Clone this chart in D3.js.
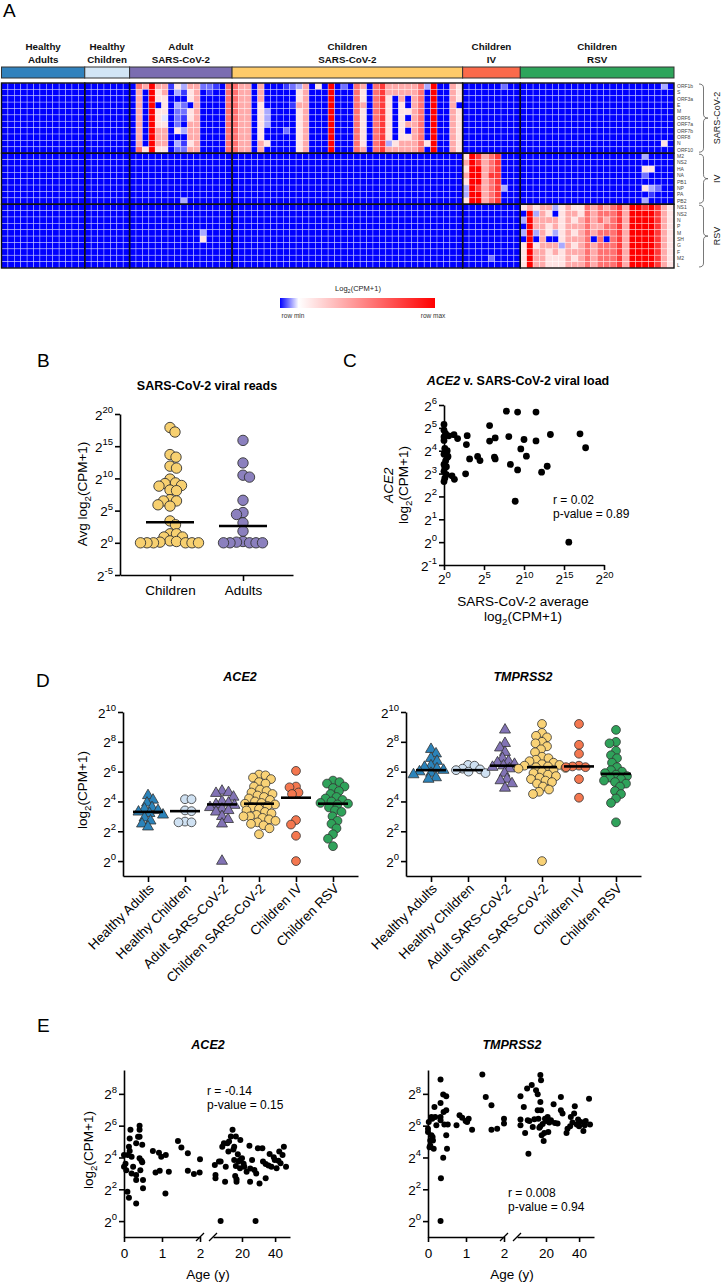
<!DOCTYPE html>
<html><head><meta charset="utf-8">
<script src="https://cdn.jsdelivr.net/npm/d3@7"></script>
<style>body{margin:0;background:#fff} svg{display:block;font-family:"Liberation Sans",Arial,sans-serif}</style>
</head><body><svg id="fig" width="722" height="1285"></svg>
<script>
// ---------------- DATA ----------------
const groups = ["Healthy Adults","Healthy Children","Adult SARS-CoV-2","Children SARS-CoV-2","Children IV","Children RSV"];
const groupLabelLines = [["Healthy","Adults"],["Healthy","Children"],["Adult","SARS-CoV-2"],["Children","SARS-CoV-2"],["Children","IV"],["Children","RSV"]];
const groupSizes = [13,7,16,36,9,24];
const groupColors = ["#3182bd","#d2e5f5","#7b6db1","#fecb6a","#fb6a4a","#2ea55b"];
const sectionNames = ["SARS-CoV-2","IV","RSV"];
const sarsGenes = ["ORF1b","S","ORF3a","E","M","ORF6","ORF7a","ORF7b","ORF8","N","ORF10"];
const ivGenes = ["M2","NS2","HA","NA","PB1","NP","PA","PB2"];
const rsvGenes = ["NS1","NS2","N","P","M","SH","G","F","M2","L"];
// heat levels 0 (row min) .. 9 (row max); one string per column, rows top->bottom
const sarsCols = [ // Adult SARS-CoV-2 + Children SARS-CoV-2 columns, SARS-CoV-2 genes
"00000000000","76666666667","60000000005","99999999999","65505556665","66555456665","10000000000","53032225032",
"31022103012","65505566656","66666666666","20000000000","21000000000","10000000000","00000000000","77777777777",
"77777777777","66666666666","66666666666","00000000000","66655555566","00003330050","00000000000","00000000000",
"10000002000","20010000000","35565555555","66666666666","00000000000","50000000000","00000000000","99999999999",
"00000000000","20000000000","00000000000","77777777777","65565555556","00000000000","77777777777","88888888888",
"66555555536","66000000056","66655555566","66005060566","66666666666","77777777777","30000000050","99999999999",
"00000000000","00000000000","66666666666","55505555555"];
const ivCols = ["56565335","99999999","88999899","66666666","77787777","88888888","00000300","00000000","00000000"];
const rsvCols = ["5030305555","6999999999","5366305666","6666666666","6565506555","3066306655","5555553555","6666666666",
"5656565656","5566666666","7777777777","6666606666","7776777777","6767707777","7777777777","8888888888",
"6666666666","9999999999","9999999999","8999999999","9999999999","8888888888","6666666666","5555555555"];
const extraCells = [[0,78,2],[0,103,3],[9,103,5],[18,28,3],[11,100,3],[13,100,5],[13,101,5],[14,100,2],[16,100,5],[16,101,3],[16,102,2],[17,101,1],[18,100,3],[23,31,3],[24,31,5],[27,76,2]];

// Panel B (log2 exponents)
const bCategories = ["Children","Adults"];
const bChildren = [17.9,17.2,13.7,13.3,11.9,11.6,9.9,9.3,9.2,8.9,8.8,8.2,8.1,6.7,6.5,6.5,5.9,5.7,3.4,2.8,1.4,1.4,0.9,0.9,0.3,0.2,0.1,0,0,0,0,0,0];
const bAdults = [15.9,12.4,10.5,10.2,6.6,4.7,4.4,3.1,1.8,0.2,0.1,0,0,0,0,0];
const bMedians = [3.2,2.6];

// Panel C [SARS-CoV-2 exp, ACE2 exp]
const cPoints = [[0,5.15],[0,4.9],[0.2,4.75],[0,4.45],[0.1,4.1],[0.3,3.9],[0,3.85],[0.4,3.7],[0.2,3.55],[0,3.4],[0.1,3.25],[0,3.1],[0.3,2.95],[0.1,2.8],[0,2.65],[0.5,3.75],[0.4,4.0],[1.0,2.9],[1.3,2.75],[0.3,3.3],[0,4.6],[0.6,4.65],
[1.25,4.7],[1.7,4.53],[2.9,4.66],[2.8,4.27],[3.2,3.64],[4.2,3.75],[4.5,3.57],[2.7,2.99],[5.7,5.1],[5.7,4.42],[6.4,4.56],[6.3,3.72],[6.4,3.64],[7.8,5.73],[9.2,5.69],[11.5,5.69],[8.1,4.62],[10,4.49],[9.6,4.08],[11.5,4.43],[10.3,3.76],[8.3,3.4],[9.2,3.16],[13.3,4.71],[12.9,3.32],[12.2,3.06],[17,4.74],[17.7,4.13],[8.9,1.79],[15.6,0]];

// Panel D (log2 exponents)
const ace2HA = [4.4,4.1,3.9,3.6,3.5,3.4,3.3,3.2,3.1,2.9,2.7,2.5,2.3];
const ace2HC = [4.15,4.15,3.4,3.35,2.65,2.6,2.6];
const ace2AS = [4.7,4.6,4.55,4.3,4.0,3.9,3.8,3.75,3.6,3.5,3.4,3.3,3.0,2.8,2.5,0];
const ace2CS = [5.8,5.75,5.6,5.5,5.3,5.2,5.0,4.8,4.7,4.6,4.5,4.4,4.3,4.2,4.1,4.0,3.9,3.85,3.8,3.7,3.6,3.5,3.4,3.3,3.2,3.1,3.0,3.0,2.9,2.8,2.7,2.6,2.5,2.4,2.2,1.8];
const ace2IV = [6.05,5.0,4.95,4.6,4.5,2.75,2.45,1.7,0];
const ace2RSV = [5.4,5.3,5.2,5.0,4.9,4.7,4.5,4.3,4.2,4.1,4.0,3.9,3.85,3.8,3.6,3.4,3.3,3.0,2.7,2.5,2.2,1.8,1.5,1.0];
const ace2Medians = [3.3,3.35,3.8,3.85,4.25,3.85];
const tmpHA = [7.5,7.2,6.9,6.7,6.4,6.3,6.2,6.1,6.0,5.9,5.8,5.6,5.5];
const tmpHC = [6.45,6.4,6.2,6.15,6.1,6.0,5.9];
const tmpAS = [8.8,7.9,7.6,7.3,6.9,6.7,6.6,6.5,6.4,6.3,6.2,5.9,5.5,5.4,5.2,4.9];
const tmpCS = [9.2,8.6,8.4,8.3,8.0,7.9,7.7,7.5,7.3,7.0,6.9,6.8,6.7,6.6,6.5,6.45,6.4,6.35,6.3,6.25,6.2,6.1,6.0,5.9,5.8,5.7,5.6,5.5,5.4,5.3,5.2,5.0,4.8,4.65,4.5,0];
const tmpIV = [9.2,7.8,7.2,6.4,6.35,6.3,6.3,5.5,4.25];
const tmpRSV = [8.8,8.0,7.9,7.4,7.1,6.9,6.6,6.3,6.1,6.0,5.9,5.8,5.7,5.6,5.5,5.4,5.3,5.2,5.0,4.7,4.5,4.2,3.9,2.6];
const tmpMedians = [6.1,6.1,6.4,6.3,6.35,5.85];

// Panel E [age (y), log2 exponent]
const eAce2 = [[0,4.16],[0,3.42],[0.04,3.6],[0.06,3.2],[0.09,1.85],[0.13,1.47],[0.1,4.16],[0.13,4.68],[0.15,4.4],[0.17,5.74],[0.15,5.2],[0.2,4.05],[0.2,3.0],[0.24,3.42],[0.32,1.11],[0.32,2.9],[0.32,2.58],[0.32,4.9],[0.37,5.3],[0.41,6.0],[0.41,5.74],[0.41,5.3],[0.41,3.95],[0.46,3.8],[0.43,3.2],[0.48,3.7],[0.48,4.8],[0.5,2.58],[0.5,2.06],
[0.76,4.4],[0.92,4.3],[0.98,4.05],[1.1,4.16],[0.83,3.05],[0.94,3.17],[1.09,1.74],[1.18,3.1],[1.42,5.04],[1.51,4.62],[1.68,4.26],[1.68,3.17],[1.84,2.96],[1.99,3.05],[2.0,3.89],
[3.6,3.53],[4.0,2.9],[4.0,2.69],[6.1,3.74],[7.1,0],[7.1,3.74],[8.1,4.68],[9.1,4.9],[9.8,2.48],[10.2,3.42],[11.2,4.9],[11.8,4.37],[12.2,5.0],[14.3,5.74],[13.3,5.32],[16.3,5.32],[15.3,4.68],[15.3,3.84],[16.3,3.47],[15.9,2.84],[16.7,2.63],[16.7,2.48],[17.9,3.74],[18.8,3.84],[20,3.95],[18.8,3.32],[21.4,3.42],[22.8,3.11],[24.5,4.73],[24.9,2.48],[26.1,3.84],[27.5,3.21],[28.2,0],[28.6,3.0],[29.6,4.58],[30.6,2.37],[32.3,4.58],[32.7,3.74],[34.3,2.69],[34.3,3.59],[36.7,4.22],[37.8,3.42],[39.2,4.01],[39.8,3.84],[40.9,3.32],[42.5,4.37],[43.3,3.63],[44.5,4.16],[45.3,4.68],[46.6,3.42],
[14.8,4.5],[17.5,4.2],[19,5.1],[21,3.6],[25,3.3],[36,3.5],[42,3.8]];
const eTmp = [[0,5.81],[0,5.6],[0.02,6.23],[0.04,4.65],[0.06,5.07],[0.06,4.76],[0.09,6.55],[0.11,6.44],[0.09,5.39],[0.12,5.28],[0.13,5.07],[0.15,4.55],[0.17,7.18],[0.19,6.55],[0.22,6.02],[0.33,8.9],[0.33,7.43],[0.33,6.55],[0.33,6.34],[0.34,2.69],[0.33,0],[0.4,3.98],[0.4,7.96],[0.41,6.86],[0.43,6.08],[0.48,7.85],[0.48,6.97],[0.48,5.39],[0.5,4.55],[0.52,6.08],
[0.75,6.02],[0.83,6.65],[0.9,6.5],[0.99,6.29],[1.03,6.23],[1.07,6.44],[1.16,5.75],[1.43,9.22],[1.52,7.81],[1.67,7.28],[1.67,5.75],[1.82,5.81],[2.0,6.44],[2.0,6.13],
[4.6,7.85],[4.6,6.38],[4.6,6.02],[6.6,7.18],[7.4,5.54],[8.6,8.34],[9.0,6.34],[9.4,4.23],[10,6.29],[11.4,8.55],[12,5.92],[14,8.23],[15,7.98],[15,6.97],[15.4,6.44],[16,5.87],[16.6,9.18],[17,8.86],[16.6,7.49],[17,6.97],[16.6,5.96],[17.4,5.39],[18.6,5.03],[19,5.54],[19.4,6.44],[21,6.55],[21.4,5.6],[23,6.34],[24.6,7.35],[25.4,6.17],[27,6.13],[29,7.81],[29,6.97],[30,6.76],[32.4,5.54],[33,5.81],[34.6,5.96],[35,6.55],[37,6.76],[37.4,7.22],[38.6,6.08],[39.4,6.38],[40,5.96],[41,6.23],[42.6,5.66],[43.4,6.02],[46,7.7],[46.6,6.08],
[13,6.4],[18,6.1],[20,6.3],[36,6.2],[44,6.3],[22,6.2]];

// ---------------- DRAW ----------------
const svg = d3.select('#fig');

function letter(t,x,y){ svg.append('text').attr('x',x).attr('y',y).attr('font-size',19).text(t); }

// ---- Panel A heatmap ----
const geneRows = [...sarsGenes, ...ivGenes, ...rsvGenes];
const sectionSizes = [sarsGenes.length, ivGenes.length, rsvGenes.length];
const sectionStart = [0, sectionSizes[0], sectionSizes[0]+sectionSizes[1]];
const nCols = d3.sum(groupSizes);
const groupStart = groupSizes.map((s,i)=>d3.sum(groupSizes.slice(0,i)));
const matrix = geneRows.map(()=>new Array(nCols).fill(0));
sarsCols.forEach((s,j)=>{ for(let r=0;r<s.length;r++) matrix[sectionStart[0]+r][groupStart[2]+j] = +s[r]; });
ivCols.forEach((s,j)=>{ for(let r=0;r<s.length;r++) matrix[sectionStart[1]+r][groupStart[4]+j] = +s[r]; });
rsvCols.forEach((s,j)=>{ for(let r=0;r<s.length;r++) matrix[sectionStart[2]+r][groupStart[5]+j] = +s[r]; });
extraCells.forEach(([r,c,v])=>{ matrix[r][c]=v; });
const cells = [];
matrix.forEach((row,r)=>row.forEach((v,c)=>cells.push({r,c,v})));

const hmX = d3.scaleBand().domain(d3.range(nCols)).range([1.5,674]);
const hmY = d3.scaleBand().domain(d3.range(geneRows.length)).range([83,268]);
const heatColor = d3.scaleLinear().domain([0,4.5,9]).range(['#0000ff','#ffffff','#ff0000']);
const bw = hmX.bandwidth(), bh = hmY.bandwidth();

letter('A',3,17);

const gA = svg.append('g');
gA.selectAll('rect.cell').data(cells).join('rect').attr('class','cell')
  .attr('x',d=>hmX(d.c)).attr('y',d=>hmY(d.r)).attr('width',bw).attr('height',bh)
  .attr('fill',d=>heatColor(d.v)).attr('stroke','rgba(255,255,255,0.55)').attr('stroke-width',0.6);
groups.forEach((g,gi)=>sectionNames.forEach((s,si)=>{
  gA.append('rect').attr('x',hmX(groupStart[gi])).attr('y',hmY(sectionStart[si]))
   .attr('width',groupSizes[gi]*bw).attr('height',sectionSizes[si]*bh)
   .attr('fill','none').attr('stroke','#111').attr('stroke-width',1.4);
}));
groups.forEach((g,gi)=>{
  const x0 = hmX(groupStart[gi]), w = groupSizes[gi]*bw;
  gA.append('rect').attr('x',x0).attr('y',67).attr('width',w).attr('height',11)
    .attr('fill',groupColors[gi]).attr('stroke','#333').attr('stroke-width',1);
  const t = gA.append('text').attr('text-anchor','middle').attr('font-size',9.8).attr('font-weight','bold').attr('fill','#111');
  groupLabelLines[gi].forEach((ln,li)=>t.append('tspan').attr('x',x0+w/2).attr('y',50+li*12.5).text(ln));
});
gA.selectAll('text.gene').data(geneRows).join('text').attr('class','gene')
  .attr('x',677).attr('y',(d,i)=>hmY(i)+bh/2).attr('dy','0.35em').attr('font-size',5).attr('fill','#444').text(d=>d);
sectionNames.forEach((s,si)=>{
  const y0 = hmY(sectionStart[si])+1, y1 = hmY(sectionStart[si])+sectionSizes[si]*bh-1, m=(y0+y1)/2, x=699, w=9;
  const p = `M${x},${y0} Q${x+w/2},${y0} ${x+w/2},${y0+4} L${x+w/2},${m-4} Q${x+w/2},${m} ${x+w},${m} Q${x+w/2},${m} ${x+w/2},${m+4} L${x+w/2},${y1-4} Q${x+w/2},${y1} ${x},${y1}`;
  gA.append('path').attr('d',p).attr('fill','none').attr('stroke','#555').attr('stroke-width',0.8);
  gA.append('text').attr('transform',`translate(720,${m}) rotate(-90)`).attr('text-anchor','middle').attr('font-size',9).attr('fill','#222').text(s);
});
const defs = svg.append('defs');
const lg = defs.append('linearGradient').attr('id','lg');
[[0,'#0000ff'],[0.12,'#ffffff'],[1,'#ff0000']].forEach(([o,c])=>lg.append('stop').attr('offset',o).attr('stop-color',c));
const lt = gA.append('text').attr('x',358).attr('y',291).attr('text-anchor','middle').attr('font-size',7.5).attr('fill','#222');
lt.append('tspan').text('Log'); lt.append('tspan').attr('dy',2).attr('font-size',5.5).text('2'); lt.append('tspan').attr('dy',-2).text('(CPM+1)');
gA.append('rect').attr('x',280).attr('y',298).attr('width',155).attr('height',10).attr('fill','url(#lg)');
gA.append('text').attr('x',293).attr('y',318).attr('text-anchor','middle').attr('font-size',6.5).attr('fill','#333').text('row min');
gA.append('text').attr('x',433).attr('y',318).attr('text-anchor','middle').attr('font-size',6.5).attr('fill','#333').text('row max');

// ---- helpers ----
function styleAxis(g){
  g.select('.domain').attr('stroke','#000').attr('stroke-width',1.6);
  g.selectAll('.tick line').attr('stroke','#000').attr('stroke-width',1.6);
}
function yAxisPow(g, scale, ticks){
  g.call(d3.axisLeft(scale).tickValues(ticks).tickSize(5).tickSizeOuter(0).tickFormat(''));
  styleAxis(g);
  g.selectAll('.tick').each(function(d){
    const t = d3.select(this).append('text').attr('x',-7).attr('y',5).attr('text-anchor','end').attr('font-size',13.5).attr('fill','#000');
    t.append('tspan').text('2'); t.append('tspan').attr('dy',-6.5).attr('font-size',9.5).text(String(d));
  });
}
function xAxisPow(g, scale, ticks){
  g.call(d3.axisBottom(scale).tickValues(ticks).tickSize(5).tickSizeOuter(0).tickFormat(''));
  styleAxis(g);
  g.selectAll('.tick').each(function(d){
    const t = d3.select(this).append('text').attr('x',0).attr('y',19).attr('text-anchor','middle').attr('font-size',13.5).attr('fill','#000');
    t.append('tspan').text('2'); t.append('tspan').attr('dy',-6.5).attr('font-size',9.5).text(String(d));
  });
}
function logLabel(x,y,fs,prefix){
  const t = svg.append('text').attr('transform',`translate(${x},${y}) rotate(-90)`).attr('text-anchor','middle').attr('font-size',fs).attr('fill','#000');
  t.append('tspan').text(prefix+'log'); t.append('tspan').attr('dy',3.5).attr('font-size',fs*0.72).text('2'); t.append('tspan').attr('dy',-3.5).text('(CPM+1)');
  return t;
}
function swarm(values, yScale, cx, minDist){
  const pts = values.map((v,i)=>({v, y:yScale(v), i}));
  const order = pts.slice().sort((a,b)=>a.y-b.y);
  const placed = [];
  order.forEach((p,k)=>{
    let off=0, found=false;
    for(let s=0; s<400 && !found; s++){
      const cands = s===0 ? [0] : (k%2 ? [s*0.5,-s*0.5] : [-s*0.5,s*0.5]);
      for(const o of cands){
        if(placed.every(q=>(q.dx-o)**2+(q.y-p.y)**2 >= minDist*minDist)){ off=o; found=true; break; }
      }
    }
    p.dx=off; placed.push(p);
  });
  return pts.map(p=>({v:p.v, y:p.y, x:cx+p.dx}));
}
function title(x,y,parts){
  const t = svg.append('text').attr('x',x).attr('y',y).attr('text-anchor','middle').attr('font-size',12.5).attr('font-weight','bold');
  parts.forEach(([s,it])=>t.append('tspan').attr('font-style',it?'italic':'normal').text(s));
}

// ---- Panel B ----
letter('B',37,367);
title(207,390,[["SARS-CoV-2 viral reads",false]]);
const yB = d3.scaleLinear().domain([-5,20]).range([575,414]);
const xB = d3.scalePoint().domain(bCategories).range([120,293]).padding(0.685);
const gBy = svg.append('g').attr('transform','translate(120,0)'); yAxisPow(gBy,yB,[-5,0,5,10,15,20]);
const gBx = svg.append('g').attr('transform','translate(0,575)');
gBx.call(d3.axisBottom(xB).tickSize(6).tickSizeOuter(0).tickFormat('')); styleAxis(gBx);
gBx.selectAll('.tick').append('text').attr('y',20).attr('text-anchor','middle').attr('font-size',13.5).attr('fill','#000').text(d=>d);
logLabel(87,494,13.5,'Avg ');
[[bChildren,'#f7d070'],[bAdults,'#8b80be']].forEach(([vals,col],i)=>{
  const pts = swarm(vals,yB,xB(bCategories[i]),6.4);
  svg.append('g').selectAll('circle').data(pts).join('circle').attr('cx',d=>d.x).attr('cy',d=>d.y).attr('r',5.2)
    .attr('fill',col).attr('stroke','#333').attr('stroke-width',0.9);
  svg.append('line').attr('x1',xB(bCategories[i])-24).attr('x2',xB(bCategories[i])+24).attr('y1',yB(bMedians[i])).attr('y2',yB(bMedians[i])).attr('stroke','#000').attr('stroke-width',2.6);
});

// ---- Panel C ----
letter('C',343,367);
title(518,385,[["ACE2",true],[" v. SARS-CoV-2 viral load",false]]);
const xC = d3.scaleLinear().domain([0,20]).range([444,604]);
const yC = d3.scaleLinear().domain([-1,6]).range([565,405]);
const gCy = svg.append('g').attr('transform','translate(444,0)'); yAxisPow(gCy,yC,[-1,0,1,2,3,4,5,6]);
const gCx = svg.append('g').attr('transform','translate(0,565)'); xAxisPow(gCx,xC,[0,5,10,15,20]);
svg.append('g').selectAll('circle').data(cPoints).join('circle').attr('cx',d=>xC(d[0])).attr('cy',d=>yC(d[1])).attr('r',3.4).attr('fill','#000');
svg.append('text').attr('x',553).attr('y',504).attr('font-size',12).text('r = 0.02');
svg.append('text').attr('x',553).attr('y',518).attr('font-size',12).text('p-value = 0.89');
svg.append('text').attr('x',523).attr('y',606).attr('text-anchor','middle').attr('font-size',13.5).text('SARS-CoV-2 average');
{ const t = svg.append('text').attr('x',523).attr('y',621).attr('text-anchor','middle').attr('font-size',13.5);
  t.append('tspan').text('log'); t.append('tspan').attr('dy',3.5).attr('font-size',9.7).text('2'); t.append('tspan').attr('dy',-3.5).text('(CPM+1)'); }
svg.append('text').attr('transform','translate(393,485) rotate(-90)').attr('text-anchor','middle').attr('font-size',13.5).attr('font-style','italic').text('ACE2');
logLabel(408,485,13.5,'');

// ---- Panel D ----
letter('D',36,687);
const dShapes = ['tri','circle','tri','circle','circle','circle'];
const dColors = ['#2b83ba','#cfe1f2','#8273b5','#f9d276','#f4774f','#2fa25a'];
function drawGroupPlot(x0, series, medians, ttl, ttlX, withLabel){
  title(ttlX,681,[[ttl,true]]);
  const y = d3.scaleLinear().domain([-1,10]).range([876,712]);
  const xs = d3.scalePoint().domain(groups).range([x0,x0+235]).padding(0.676);
  const gy = svg.append('g').attr('transform',`translate(${x0},0)`); yAxisPow(gy,y,[0,2,4,6,8,10]);
  const gx = svg.append('g').attr('transform','translate(0,876)');
  gx.call(d3.axisBottom(xs).tickSize(6).tickSizeOuter(0).tickFormat('')); styleAxis(gx);
  gx.selectAll('.tick').append('text').attr('transform','translate(3,10) rotate(-45)').attr('dy','0.35em')
    .attr('text-anchor','end').attr('font-size',13.5).attr('fill','#000').text(d=>d);
  if(withLabel) logLabel(87,790,13.5,'');
  series.forEach((vals,i)=>{
    const cx = xs(groups[i]);
    const pts = swarm(vals,y,cx,6.4);
    const g = svg.append('g');
    if(dShapes[i]==='tri'){
      g.selectAll('path').data(pts).join('path').attr('d',d3.symbol(d3.symbolTriangle).size(52))
        .attr('transform',d=>`translate(${d.x},${d.y})`).attr('fill',dColors[i]).attr('stroke','#333').attr('stroke-width',0.8);
    } else {
      g.selectAll('circle').data(pts).join('circle').attr('cx',d=>d.x).attr('cy',d=>d.y).attr('r',4.4)
        .attr('fill',dColors[i]).attr('stroke','#333').attr('stroke-width',0.8);
    }
    svg.append('line').attr('x1',cx-15).attr('x2',cx+15).attr('y1',y(medians[i])).attr('y2',y(medians[i])).attr('stroke','#000').attr('stroke-width',2.6);
  });
}
drawGroupPlot(123,[ace2HA,ace2HC,ace2AS,ace2CS,ace2IV,ace2RSV],ace2Medians,'ACE2',240,true);
drawGroupPlot(406,[tmpHA,tmpHC,tmpAS,tmpCS,tmpIV,tmpRSV],tmpMedians,'TMPRSS2',523,false);

// ---- Panel E ----
letter('E',37,1032);
function drawAgePlot(x0, pts, ttl, ttlX, rx, ry, rtxt, ptxt, withLabel){
  title(ttlX,1049,[[ttl,true]]);
  const y = d3.scaleLinear().domain([-1,9.5]).range([1237,1070]);
  const x1 = d3.scaleLinear().domain([0,2]).range([x0,x0+76]);
  const x2 = d3.scaleLinear().domain([2.5,49]).range([x0+89,x0+166]);
  const gy = svg.append('g').attr('transform',`translate(${x0},0)`); yAxisPow(gy,y,[0,2,4,6,8]);
  [[x1,[0,1,2]],[x2,[20,40]]].forEach(([sc,tv])=>{
    const g = svg.append('g').attr('transform','translate(0,1237)');
    g.call(d3.axisBottom(sc).tickValues(tv).tickSize(5).tickSizeOuter(0).tickFormat('')); styleAxis(g);
    g.selectAll('.tick').append('text').attr('y',21).attr('text-anchor','middle').attr('font-size',13.5).attr('fill','#000').text(d=>d);
  });
  [x0+76,x0+89].forEach(bx=>svg.append('line').attr('x1',bx-4).attr('y1',1241).attr('x2',bx+4).attr('y2',1233).attr('stroke','#000').attr('stroke-width',1.3));
  svg.append('text').attr('x',x0+84).attr('y',1279).attr('text-anchor','middle').attr('font-size',13.5).text('Age (y)');
  if(withLabel) logLabel(93,1150,13.5,'');
  svg.append('g').selectAll('circle').data(pts).join('circle')
    .attr('cx',d=>d[0]<=2.2?x1(d[0]):x2(d[0])).attr('cy',d=>y(d[1])).attr('r',3).attr('fill','#000');
  svg.append('text').attr('x',rx).attr('y',ry).attr('font-size',12).text(rtxt);
  svg.append('text').attr('x',rx).attr('y',ry+14).attr('font-size',12).text(ptxt);
}
drawAgePlot(124,eAce2,'ACE2',208,207,1095,'r = -0.14','p-value = 0.15',true);
drawAgePlot(428,eTmp,'TMPRSS2',512,508,1197,'r = 0.008','p-value = 0.94',false);
</script></body></html>
